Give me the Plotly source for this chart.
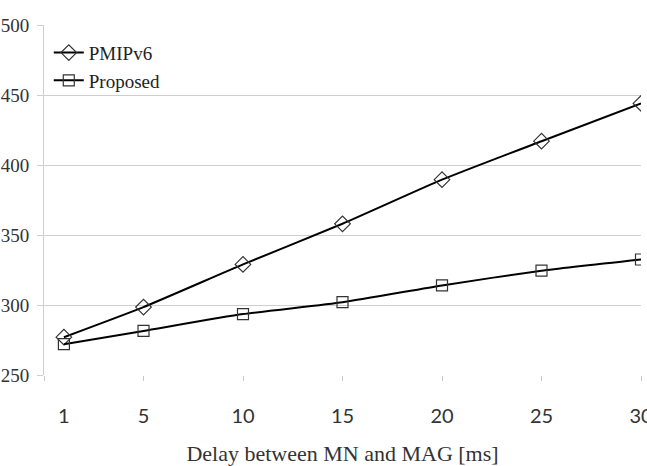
import plotly.graph_objects as go

delay = [1, 5, 10, 15, 20, 25, 30]
pmipv6 = [277, 298.5, 329, 358, 389.5, 417, 444]
proposed = [272, 281.5, 293.5, 302, 314, 324.5, 332.5]
x_ticks = [1, 5, 10, 15, 20, 25, 30]
y_ticks = [250, 300, 350, 400, 450, 500]

fig = go.Figure()
fig.add_trace(go.Scatter(
    x=delay, y=pmipv6, name="PMIPv6", mode="lines+markers",
    line=dict(color="black", width=2, shape="spline", smoothing=0.5),
    marker=dict(symbol="diamond-open", size=12, color="#333333", line=dict(width=1.2))))
fig.add_trace(go.Scatter(
    x=delay, y=proposed, name="Proposed", mode="lines+markers",
    line=dict(color="black", width=2, shape="spline", smoothing=0.5),
    marker=dict(symbol="square-open", size=11, color="#333333", line=dict(width=1.2))))

fig.update_layout(
    width=647, height=466,
    margin=dict(l=44, r=6, t=25, b=91, autoexpand=False),
    plot_bgcolor="white", paper_bgcolor="white",
    showlegend=True,
    legend=dict(x=0.008, y=0.975, xanchor="left", yanchor="top",
                bgcolor="rgba(0,0,0,0)", borderwidth=0,
                font=dict(family="Liberation Serif", size=19, color="#222"),
                tracegroupgap=0, itemwidth=30),
    xaxis=dict(range=[0, 30], tickvals=x_ticks, ticktext=[str(v) for v in x_ticks],
               showgrid=False, zeroline=False, showline=False, automargin=False,
               ticks="", tickfont=dict(family="Lato", size=20, color="#333"),
               ticklabelstandoff=27, ticklabeloverflow="allow",
               minor=dict(tickvals=[0, 5, 10, 15, 20, 25, 30], ticks="outside",
                          ticklen=5, tickcolor="#c8c8c8", tickwidth=1),
               title=dict(text="Delay between MN and MAG [ms]",
                          font=dict(family="Liberation Serif", size=22, color="#333"),
                          standoff=20)),
    yaxis=dict(range=[250, 500], tickvals=y_ticks, automargin=False,
               showgrid=True, gridcolor="#cfcfcf", gridwidth=1,
               zeroline=False, showline=True, linecolor="#cfcfcf", linewidth=1,
               ticks="outside", ticklen=6, tickcolor="#cfcfcf",
               ticklabelstandoff=4, ticklabeloverflow="allow",
               tickfont=dict(family="Liberation Serif", size=19, color="#333")),
)

fig.write_html("out.html")
